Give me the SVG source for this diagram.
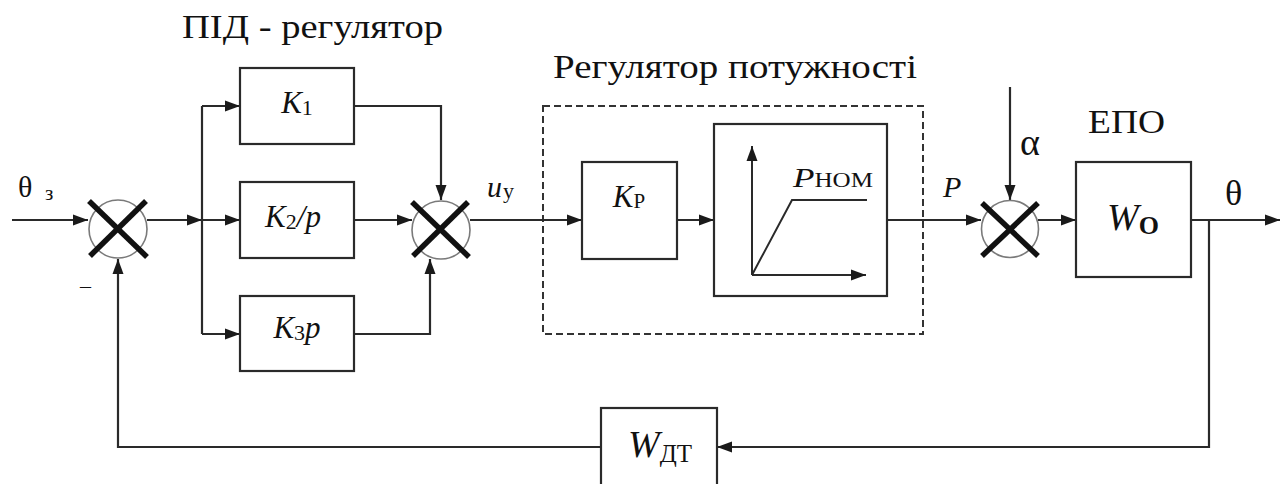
<svg xmlns="http://www.w3.org/2000/svg" width="1285" height="484" viewBox="0 0 1285 484">
<defs>
<marker id="arr" markerUnits="userSpaceOnUse" markerWidth="16" markerHeight="12" refX="15" refY="6" orient="auto">
<path d="M0,0.5 L15,6 L0,11.5 z" fill="#1a1a1a"/>
</marker>
<style>
.box{fill:#fff;stroke:#2a2a2a;stroke-width:2.2}
.ln{fill:none;stroke:#2a2a2a;stroke-width:2.2}
.cir{fill:#fff;stroke:#7a7a7a;stroke-width:1.6}
.x{stroke:#111;stroke-width:5.5;stroke-linecap:butt}
.dash{fill:none;stroke:#333;stroke-width:2;stroke-dasharray:7 4}
.t{font-family:Liberation Serif, DejaVu Serif, Noto Serif, serif;fill:#111}
.it{font-style:italic}
</style>
</defs>
<rect width="1285" height="484" fill="#fff"/>

<g id="titles">
<text class="t" x="182" y="38" font-size="34" textLength="261" lengthAdjust="spacingAndGlyphs">ПІД - регулятор</text>
<text class="t" x="553" y="78" font-size="34" textLength="364" lengthAdjust="spacingAndGlyphs">Регулятор потужності</text>
<text class="t" x="1088" y="133" font-size="33" textLength="77" lengthAdjust="spacingAndGlyphs">ЕПО</text>
</g>

<g id="power-regulator-frame">
<rect class="dash" x="543" y="106" width="380" height="228"/>
</g>

<g id="connectors">
<path class="ln" d="M12,220 H88" marker-end="url(#arr)"/>
<path class="ln" d="M147,220 H202" marker-end="url(#arr)"/>
<path class="ln" d="M202,220 H240" marker-end="url(#arr)"/>
<path class="ln" d="M202,106 V334"/>
<path class="ln" d="M202,106 H240" marker-end="url(#arr)"/>
<path class="ln" d="M202,334 H240" marker-end="url(#arr)"/>
<path class="ln" d="M354,106 H441 V200" marker-end="url(#arr)"/>
<path class="ln" d="M354,220 H412" marker-end="url(#arr)"/>
<path class="ln" d="M354,334 H430 V259" marker-end="url(#arr)"/>
<path class="ln" d="M470,220 H582" marker-end="url(#arr)"/>
<path class="ln" d="M677,220 H714" marker-end="url(#arr)"/>
<path class="ln" d="M887,220 H981" marker-end="url(#arr)"/>
<path class="ln" d="M1010,87 V200" marker-end="url(#arr)"/>
<path class="ln" d="M1038,220 H1076" marker-end="url(#arr)"/>
<path class="ln" d="M1191,220 H1280" marker-end="url(#arr)"/>
<path class="ln" d="M1209,220 V447 H717" marker-end="url(#arr)"/>
<path class="ln" d="M601,447 H118 V259" marker-end="url(#arr)"/>
</g>

<g id="signal-labels">
<text class="t" x="18" y="197" font-size="30">θ</text>
<text class="t" x="45" y="200" font-size="21">з</text>
<text class="t" x="80" y="293" font-size="22">–</text>
<text class="t it" x="487" y="197" font-size="30">u</text>
<text class="t" x="503" y="198" font-size="22">у</text>
<text class="t it" x="943" y="197" font-size="30">P</text>
<text class="t" x="1020" y="155" font-size="38">α</text>
<text class="t" x="1225" y="205" font-size="36">θ</text>
</g>

<g id="sum1">
<circle class="cir" cx="118" cy="229" r="29"/>
<line class="x" x1="89" y1="201" x2="147" y2="257"/>
<line class="x" x1="146" y1="201" x2="90" y2="256"/>
</g>

<g id="K1">
<rect class="box" x="240" y="68" width="114" height="76"/>
<text class="t" x="297" y="113" font-size="31" text-anchor="middle"><tspan class="it">K</tspan><tspan font-size="22" dy="2">1</tspan></text>
</g>

<g id="K2p">
<rect class="box" x="240" y="182" width="114" height="76"/>
<text class="t" x="293" y="227" font-size="31" text-anchor="middle"><tspan class="it">K</tspan><tspan font-size="22" dy="2">2</tspan><tspan class="it" dy="-2">/p</tspan></text>
</g>

<g id="K3p">
<rect class="box" x="240" y="296" width="114" height="75"/>
<text class="t" x="297" y="338" font-size="31" text-anchor="middle"><tspan class="it">K</tspan><tspan font-size="22" dy="2">3</tspan><tspan class="it" dy="-2">p</tspan></text>
</g>

<g id="sum2">
<circle class="cir" cx="441" cy="230" r="29"/>
<line class="x" x1="412" y1="202" x2="469" y2="257"/>
<line class="x" x1="468" y1="202" x2="413" y2="256"/>
</g>

<g id="Kp">
<rect class="box" x="582" y="162" width="95" height="97"/>
<text class="t" x="629" y="207" font-size="31" text-anchor="middle"><tspan class="it">K</tspan><tspan font-size="21" dy="1">Р</tspan></text>
</g>

<g id="saturation">
<rect class="box" x="714" y="124" width="173" height="172"/>
<path class="ln" d="M752,275 V146" marker-end="url(#arr)" style="stroke-width:2"/>
<path class="ln" d="M752,275 H866" marker-end="url(#arr)" style="stroke-width:2"/>
<path class="ln" d="M752,275 L792,200 H867" style="stroke-width:2"/>
<text class="t" x="793" y="187" font-size="28" textLength="80" lengthAdjust="spacingAndGlyphs"><tspan class="it">P</tspan><tspan font-size="20">НОМ</tspan></text>
</g>

<g id="sum3">
<circle class="cir" cx="1010" cy="229" r="28.5"/>
<line class="x" x1="982" y1="203" x2="1038" y2="256"/>
<line class="x" x1="1038" y1="203" x2="982" y2="256"/>
</g>

<g id="W0">
<rect class="box" x="1076" y="162" width="115" height="115"/>
<text class="t" x="1133" y="230" font-size="38" text-anchor="middle"><tspan class="it">W</tspan><tspan font-size="26" font-weight="bold" dy="4">О</tspan></text>
</g>

<g id="WDT">
<rect class="box" x="601" y="408" width="116" height="80"/>
<text class="t" x="660" y="457" font-size="38" text-anchor="middle"><tspan class="it">W</tspan><tspan font-size="25" dy="5">ДТ</tspan></text>
</g>
</svg>
